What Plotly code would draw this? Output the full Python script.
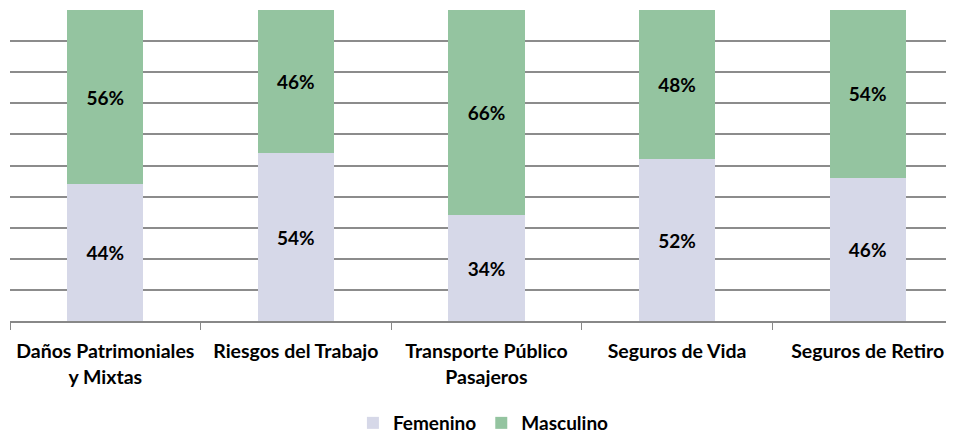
import plotly.graph_objects as go

categories = [
    "Daños Patrimoniales<br>y Mixtas",
    "Riesgos del Trabajo",
    "Transporte Público<br>Pasajeros",
    "Seguros de Vida",
    "Seguros de Retiro",
]
femenino = [44, 54, 34, 52, 46]
masculino = [56, 46, 66, 48, 54]

FONT = "Lato, 'Open Sans', sans-serif"

fig = go.Figure()
for name, values, color in [
    ("Femenino", femenino, "#D6D8E8"),
    ("Masculino", masculino, "#94C4A0"),
]:
    fig.add_trace(
        go.Bar(
            x=categories,
            y=values,
            name=name,
            marker=dict(color=color, line=dict(width=0)),
            texttemplate="%{y}%",
            textposition="inside",
            insidetextanchor="middle",
            textfont=dict(size=19, color="black", family=FONT, weight="bold"),
        )
    )

# the page body has an 8px margin, so the figure is shrunk to fit the window
fig.update_layout(
    width=946,
    height=426,
    barmode="stack",
    bargap=0.6,
    plot_bgcolor="white",
    paper_bgcolor="white",
    margin=dict(l=2, r=0, t=2, b=113, autoexpand=False),
    font=dict(family=FONT, size=16, color="black"),
    uniformtext=dict(mode="show", minsize=19),
    legend=dict(
        orientation="h",
        x=0.5015,
        xanchor="center",
        y=-0.328,
        yanchor="middle",
        font=dict(size=19, color="black", family=FONT, weight="bold"),
        itemwidth=30,
        traceorder="normal",
    ),
)
fig.update_xaxes(
    range=[-0.5, 4.453],
    automargin=False,
    showline=True,
    linecolor="#888888",
    linewidth=1.5,
    ticks="outside",
    tickson="boundaries",
    ticklen=7,
    tickcolor="#888888",
    ticklabelstandoff=12,
    tickfont=dict(size=19.5, color="black", family=FONT, weight="bold"),
    showgrid=False,
)
fig.update_yaxes(
    range=[0, 100],
    dtick=10,
    automargin=False,
    showgrid=True,
    gridcolor="#8C8C8C",
    gridwidth=2,
    showticklabels=False,
    zeroline=False,
)

fig.write_html("out.html")
